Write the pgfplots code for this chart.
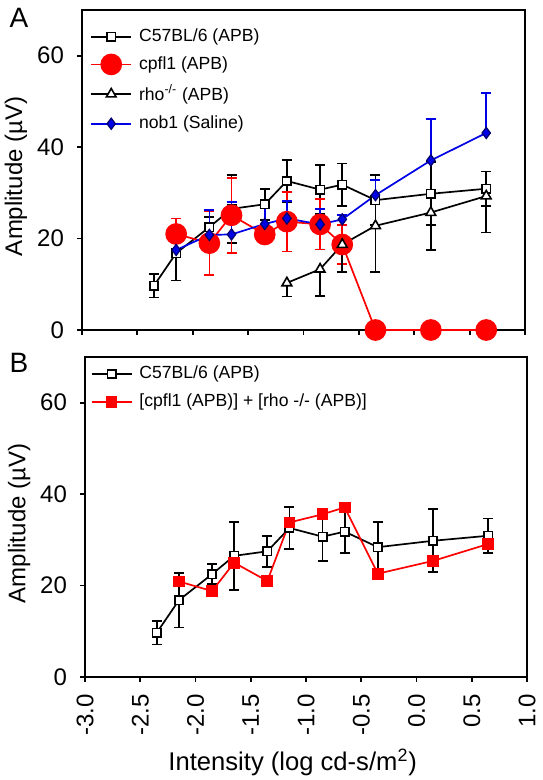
\documentclass[border=0pt]{standalone}
\usepackage{pgfplots}
\pgfplotsset{compat=1.18}
\usepackage{fontspec}
\setmainfont{Liberation Sans}
\definecolor{nobblue}{RGB}{0,0,230}
\definecolor{nobedge}{RGB}{0,0,110}
\definecolor{myred}{RGB}{255,0,0}
\pgfplotsset{
  myaxis/.style={
    scale only axis,
    anchor=south west,
    xmin=-3, xmax=1, ymin=0, ymax=70,
    xtick={-3,-2.5,...,1},
    ytick={0,20,40,60},
    axis line style={line width=1pt},
    tick style={line width=0.9pt, black},
    major tick length=2.5pt,
    tick align=outside,
    xtick pos=bottom, ytick pos=left,
    /pgf/number format/assume math mode=true,
    ticklabel style={font=\fontsize{12}{14}\selectfont},
    yticklabel style={xshift=-3pt},
    ylabel={Amplitude (µV)},
    ylabel style={font=\fontsize{12}{15}\selectfont, at={(axis description cs:-0.149,0.48)}, anchor=center},
    clip=false,
    legend cell align=left,
    legend style={draw=none, fill=none, inner sep=0pt, font=\fontsize{8.8}{10}\selectfont, row sep=2pt, anchor=north west,
      /tikz/every odd column/.append style={column sep=1.5pt}},
  },
  c57/.style={black, line width=0.85pt, mark=square*, mark options={fill=white, mark size=2.1pt, line width=0.8pt, solid}},
  error bars/ebar/.style={error bar style={line width=0.85pt}, error mark options={rotate=90, mark size=2.5pt, line width=0.85pt}},
}
\begin{document}
\begin{tikzpicture}
\path[use as bounding box] (0,0) rectangle (271pt,390pt);
\node[font=\fontsize{14}{16}\selectfont] at (9.5pt,381pt) {A};
\node[font=\fontsize{14}{16}\selectfont] at (9.5pt,208.5pt) {B};
% Panel A
\begin{axis}[myaxis, at={(41pt,225pt)}, width=221.5pt, height=160pt,
  xticklabels={},
  legend style={at={(rel axis cs:0.018,0.955)}},
  legend image code/.code={\draw[mark repeat=2,mark phase=2,#1] plot coordinates {(0pt,0pt) (10pt,0pt) (20pt,0pt)};}]
\addplot[c57, error bars/.cd, y dir=both, y explicit, ebar] coordinates {
(-2.35,9.7) +- (0,2.6)
(-2.15,16.8) +- (0,6.0)
(-1.85,22.5) +- (0,2.2)
(-1.65,26.5) +- (0,7.4)
(-1.35,27.5) +- (0,3.4)
(-1.15,32.6) +- (0,4.6)
(-0.85,30.7) +- (0,5.4)
(-0.65,31.8) +- (0,4.6)
(-0.35,28.4) +- (0,5.5)
(0.15,29.8) +- (0,6.9)
(0.65,30.9) +- (0,3.8)
};
\addlegendentry{C57BL/6 (APB)}
\addplot[myred, line width=0.85pt, mark=*, mark options={fill=myred, draw=myred, mark size=5pt, solid},
  error bars/.cd, y dir=both, y explicit, ebar] coordinates {
(-2.15,21.0) +- (0,3.4)
(-1.85,19.0) +- (0,7.0)
(-1.65,25.1) +- (0,8.2)
(-1.35,20.9) +- (0,1.5)
(-1.15,23.7) +- (0,6.5)
(-0.85,23.1) +- (0,5.5)
(-0.65,18.7) +- (0,4.3)
(-0.35,0) +- (0,0)
(0.15,0) +- (0,0)
(0.65,0) +- (0,0)
};
\addlegendentry{cpfl1 (APB)}
\addplot[black, line width=0.85pt, mark=triangle*, mark options={fill=white, mark size=2.8pt, line width=0.8pt, solid},
  error bars/.cd, y dir=minus, y explicit, ebar] coordinates {
(-1.15,10.3) +- (0,3.0)
(-0.85,13.3) +- (0,5.9)
(-0.65,18.7) +- (0,6.0)
(-0.35,22.8) +- (0,10.1)
(0.15,25.7) +- (0,8.2)
(0.65,29.3) +- (0,8.0)
};
\addlegendentry{rho\textsuperscript{-/-} (APB)}
\addplot[nobblue, line width=0.85pt, mark=diamond*, mark options={fill=nobblue, draw=nobedge, mark size=2.8pt, line width=0.6pt, solid},
  error bars/.cd, y dir=plus, y explicit, ebar] coordinates {
(-2.15,17.5) +- (0,4.3)
(-1.85,20.8) +- (0,5.4)
(-1.65,20.9) +- (0,7.1)
(-1.35,23.2) +- (0,3.6)
(-1.15,24.4) +- (0,3.8)
(-0.85,23.1) +- (0,3.4)
(-0.65,24.2) +- (0,1.0)
(-0.35,29.5) +- (0,3.3)
(0.15,37.1) +- (0,9.1)
(0.65,43.1) +- (0,8.7)
};
\addlegendentry{nob1 (Saline)}
\end{axis}
% Panel B
\begin{axis}[myaxis, at={(42.5pt,51.5pt)}, width=221pt, height=160pt,
  xticklabel style={rotate=90, anchor=east, /pgf/number format/.cd, fixed, fixed zerofill, precision=1},
  xticklabel shift=2.5pt,
  xlabel={Intensity (log cd-s/m\textsuperscript{2})},
  xlabel style={font=\fontsize{12.8}{15}\selectfont, at={(ticklabel cs:0.47)}},
  legend style={at={(rel axis cs:0.012,0.985)}},
  legend image code/.code={\draw[mark repeat=2,mark phase=2,#1] plot coordinates {(0pt,0pt) (10pt,0pt) (20pt,0pt)};}]
\addplot[c57, error bars/.cd, y dir=both, y explicit, ebar] coordinates {
(-2.35,9.7) +- (0,2.6)
(-2.15,16.8) +- (0,6.0)
(-1.85,22.5) +- (0,2.2)
(-1.65,26.5) +- (0,7.4)
(-1.35,27.5) +- (0,3.4)
(-1.15,32.6) +- (0,4.6)
(-0.85,30.7) +- (0,5.4)
(-0.65,31.8) +- (0,4.6)
(-0.35,28.4) +- (0,5.5)
(0.15,29.8) +- (0,6.9)
(0.65,30.9) +- (0,3.8)
};
\addlegendentry{C57BL/6 (APB)}
\addplot[myred, line width=0.85pt, mark=square*, mark options={fill=myred, draw=myred, mark size=2.5pt, solid}] coordinates {
(-2.15,20.9)
(-1.85,18.8)
(-1.65,25.0)
(-1.35,21.0)
(-1.15,33.8)
(-0.85,35.6)
(-0.65,37.1)
(-0.35,22.6)
(0.15,25.4)
(0.65,29.1)
};
\addlegendentry{[cpfl1 (APB)] + [rho -/- (APB)]}
\end{axis}
\end{tikzpicture}
\end{document}
